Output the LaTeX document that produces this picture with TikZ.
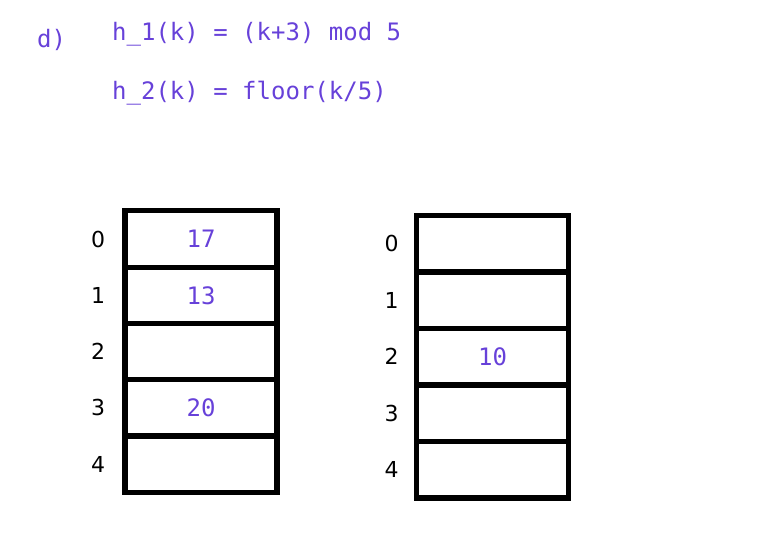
\documentclass[tikz,border=0pt]{standalone}
\usepackage{fontspec}
\setmonofont{DejaVu Sans Mono}
\newfontfamily\handfont{DejaVu Sans}
\usepackage{xcolor}
\usetikzlibrary{positioning}

\definecolor{codeviolet}{HTML}{6741D9}

\begin{document}
\begin{tikzpicture}[x=1pt, y=-1pt, every node/.style={inner sep=0pt},
  code/.style={font=\ttfamily\fontsize{24}{29}\selectfont, text=codeviolet},
  slot/.style={draw, line width=5.2pt, minimum width=152pt, minimum height=56.3pt, code},
  idx/.style={font=\handfont\fontsize{22}{26}\selectfont}]

\useasboundingbox (0,0) rectangle (758,554);

% task and hash functions
\node (part)[code, anchor=west] at (37,40) {d)};
\node (h1)[code, anchor=west] at (112,34) {h\_1(k) = (k+3) mod 5};
\node (h2)[code, anchor=west] at (112,93) {h\_2(k) = floor(k/5)};

% table for h_1
\foreach \v [count=\i from 0] in {17,13,{},20,{}}{
  \node (l\i)[slot] at (201, 239+56.3*\i) {\v};
  \node (li\i)[idx, left=17pt of l\i] {\i};
}

% table for h_2
\foreach \v [count=\i from 0] in {{},{},10,{},{}}{
  \node (r\i)[slot] at (492.5, 243.5+56.6*\i) {\v};
  \node (ri\i)[idx, left=15pt of r\i] {\i};
}
\end{tikzpicture}
\end{document}
